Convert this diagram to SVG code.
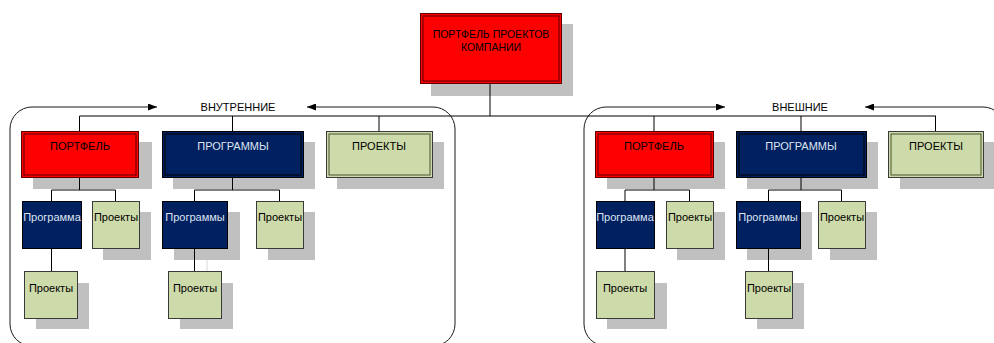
<svg xmlns="http://www.w3.org/2000/svg" width="994" height="343" viewBox="0 0 994 343">
<defs>
<marker id="arr" viewBox="0 0 10 10" refX="10" refY="5" markerWidth="9" markerHeight="7" markerUnits="userSpaceOnUse" orient="auto" preserveAspectRatio="none">
<path d="M0,0 L10,5 L0,10 z" fill="#000"/>
</marker>
</defs>
<style>
text{font-family:"Liberation Sans",Arial,sans-serif;font-size:11px;text-anchor:middle}
.sh{fill:#c0c0c0}
.red{fill:#ff0000;stroke:#5a0000;stroke-width:1}
.redi{fill:none;stroke:#5a0000;stroke-width:1}
.navy{fill:#002060;stroke:#000;stroke-width:1}
.navyi{fill:none;stroke:#000;stroke-width:1}
.grn{fill:#cddaa9;stroke:#3a3a3a;stroke-width:1}
.grni{fill:none;stroke:#4a5232;stroke-width:1}
.cn{fill:none;stroke:#000;stroke-width:1}
.ct{fill:none;stroke:#1a1a1a;stroke-width:1}
.dk{fill:#000}
.lt{fill:#dfe4f2}
</style>

<!-- shadows -->
<g id="shadows">
<rect class="sh" x="431" y="24" width="142" height="72"/>
<rect class="sh" x="33" y="142" width="119" height="47"/>
<rect class="sh" x="173" y="142" width="142" height="47"/>
<rect class="sh" x="337" y="142" width="107" height="47"/>
<rect class="sh" x="607" y="142" width="118" height="47"/>
<rect class="sh" x="747" y="142" width="131" height="47"/>
<rect class="sh" x="900" y="142" width="96" height="47"/>
<rect class="sh" x="103" y="212" width="48" height="48"/>
<rect class="sh" x="36" y="283" width="53" height="46"/>
<rect class="sh" x="174" y="212" width="66" height="48"/>
<rect class="sh" x="268" y="212" width="47" height="48"/>
<rect class="sh" x="180" y="283" width="53" height="46"/>
<rect class="sh" x="677" y="212" width="48" height="48"/>
<rect class="sh" x="607" y="283" width="60" height="46"/>
<rect class="sh" x="747" y="212" width="65" height="48"/>
<rect class="sh" x="830" y="212" width="47" height="48"/>
<rect class="sh" x="757" y="283" width="47" height="46"/>
</g>

<!-- containers -->
<g id="container-internal">
<path class="ct" d="M32,346 A22,22 0 0 1 10,324 V129 A22,22 0 0 1 32,107 H157" marker-end="url(#arr)"/>
<path class="ct" d="M433,346 A22,22 0 0 0 455,324 V129 A22,22 0 0 0 433,107 H307" marker-end="url(#arr)"/>
<text x="238" y="111">ВНУТРЕННИЕ</text>
</g>
<g id="container-external">
<path class="ct" d="M606,346 A22,22 0 0 1 584,324 V129 A22,22 0 0 1 606,107 H725" marker-end="url(#arr)"/>
<path class="ct" d="M1005,346 V129 A22,22 0 0 0 983,107 H865" marker-end="url(#arr)"/>
<text x="800" y="111">ВНЕШНИЕ</text>
</g>

<!-- connectors -->
<g id="connectors">
<path class="cn" d="M490,83 V116" />
<path class="cn" d="M79.5,116 H936" stroke-width="1.4"/>
<path class="cn" d="M79.5,116 V131 M232.5,116 V131 M379,116 V131 M654,116 V131 M801,116 V131 M935.5,116 V131"/>
<path class="cn" d="M79.5,177 V190 M51.5,190 H115.5 M51.5,190 V201 M115.5,190 V201 M51.5,248 V271"/>
<path class="cn" d="M232.5,177 V190 M194.5,190 H279.5 M194.5,190 V201 M279.5,190 V201 M194.5,248 V271"/>
<path d="M207,260 V282" fill="none" stroke="#d8d8d8" stroke-width="1"/>
<path class="cn" d="M654,177 V190 M625,190 H689.5 M625,190 V201 M689.5,190 V201 M625,248 V271"/>
<path class="cn" d="M801,177 V190 M768.5,190 H841.5 M768.5,190 V201 M841.5,190 V201 M768.5,248 V271"/>
</g>

<!-- top node -->
<g id="company-portfolio">
<rect class="red" x="420.5" y="13.5" width="141" height="70"/>
<rect class="redi" x="423" y="16" width="136" height="65"/>
<text class="dk" x="491" y="38" style="font-size:10.5px">ПОРТФЕЛЬ ПРОЕКТОВ</text>
<text class="dk" x="491" y="51" style="font-size:10.5px">КОМПАНИИ</text>
</g>

<!-- internal level 1 -->
<g id="int-portfolio">
<rect class="red" x="21.5" y="131.5" width="117" height="46"/>
<rect class="redi" x="24" y="134" width="112" height="41"/>
<text class="dk" x="80" y="150">ПОРТФЕЛЬ</text>
</g>
<g id="int-programs">
<rect class="navy" x="162.5" y="131.5" width="141" height="46"/>
<rect class="navyi" x="165" y="134" width="136" height="41"/>
<text class="lt" x="233" y="150">ПРОГРАММЫ</text>
</g>
<g id="int-projects">
<rect class="grn" x="326.5" y="131.5" width="106" height="46"/>
<rect class="grni" x="329" y="134" width="101" height="41"/>
<text class="dk" x="379" y="150">ПРОЕКТЫ</text>
</g>

<!-- internal level 2 -->
<g id="int-portfolio-program">
<rect class="navy" x="22.5" y="201.5" width="59" height="47"/>
<text class="lt" x="52" y="221">Программа</text>
</g>
<g id="int-portfolio-projects">
<rect class="grn" x="92.5" y="201.5" width="47" height="47"/>
<text class="dk" x="116" y="221">Проекты</text>
</g>
<g id="int-portfolio-program-projects">
<rect class="grn" x="24.5" y="271.5" width="53" height="47"/>
<text class="dk" x="51" y="292">Проекты</text>
</g>
<g id="int-programs-programs">
<rect class="navy" x="162.5" y="201.5" width="65" height="47"/>
<text class="lt" x="195" y="221">Программы</text>
</g>
<g id="int-programs-projects">
<rect class="grn" x="256.5" y="201.5" width="47" height="47"/>
<text class="dk" x="280" y="221">Проекты</text>
</g>
<g id="int-programs-programs-projects">
<rect class="grn" x="168.5" y="271.5" width="53" height="47"/>
<text class="dk" x="195" y="292">Проекты</text>
</g>

<!-- external level 1 -->
<g id="ext-portfolio">
<rect class="red" x="595.5" y="131.5" width="118" height="46"/>
<rect class="redi" x="598" y="134" width="113" height="41"/>
<text class="dk" x="654" y="150">ПОРТФЕЛЬ</text>
</g>
<g id="ext-programs">
<rect class="navy" x="736.5" y="131.5" width="130" height="46"/>
<rect class="navyi" x="739" y="134" width="125" height="41"/>
<text class="lt" x="801" y="150">ПРОГРАММЫ</text>
</g>
<g id="ext-projects">
<rect class="grn" x="888.5" y="131.5" width="95" height="46"/>
<rect class="grni" x="891" y="134" width="90" height="41"/>
<text class="dk" x="936" y="150">ПРОЕКТЫ</text>
</g>

<!-- external level 2 -->
<g id="ext-portfolio-program">
<rect class="navy" x="596.5" y="201.5" width="58" height="47"/>
<text class="lt" x="625" y="221">Программа</text>
</g>
<g id="ext-portfolio-projects">
<rect class="grn" x="666.5" y="201.5" width="47" height="47"/>
<text class="dk" x="690" y="221">Проекты</text>
</g>
<g id="ext-portfolio-program-projects">
<rect class="grn" x="596.5" y="271.5" width="58" height="47"/>
<text class="dk" x="625" y="292">Проекты</text>
</g>
<g id="ext-programs-programs">
<rect class="navy" x="736.5" y="201.5" width="64" height="47"/>
<text class="lt" x="768" y="221">Программы</text>
</g>
<g id="ext-programs-projects">
<rect class="grn" x="818.5" y="201.5" width="47" height="47"/>
<text class="dk" x="842" y="221">Проекты</text>
</g>
<g id="ext-programs-programs-projects">
<rect class="grn" x="745.5" y="271.5" width="47" height="47"/>
<text class="dk" x="769" y="292">Проекты</text>
</g>
</svg>
